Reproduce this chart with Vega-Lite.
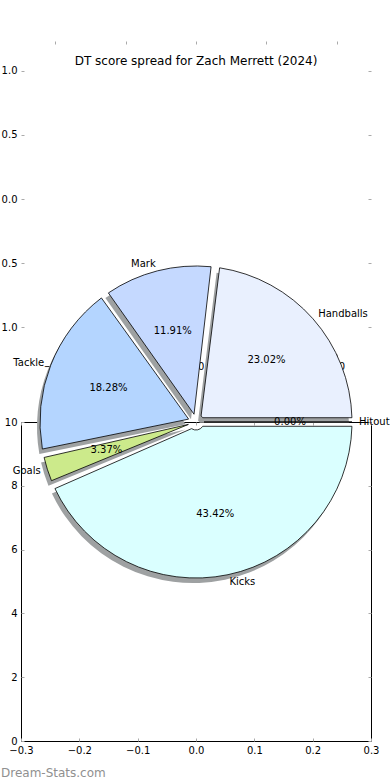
{
  "$schema": "https://vega.github.io/schema/vega-lite/v6.json",
  "padding": {"left": 0, "top": 40, "right": 0, "bottom": 0},
  "config": {
    "font": "DejaVu Sans",
    "view": {"stroke": null},
    "axis": {"labelFont": "DejaVu Sans", "labelFontSize": 10, "labelColor": "#000000", "tickColor": "#aaaaaa", "tickSize": -3, "labelPadding": 7, "domain": false, "grid": false, "labelFlush": false}
  },
  "data": {"values": [
    {"stat": "Handballs", "share": 0.2302, "idx": 1},
    {"stat": "Mark", "share": 0.1191, "idx": 2},
    {"stat": "Tackle", "share": 0.1828, "idx": 3},
    {"stat": "Goals", "share": 0.0337, "idx": 4},
    {"stat": "Kicks", "share": 0.4342, "idx": 5},
    {"stat": "Hitout", "share": 0.0, "idx": 6}
  ]},
  "bounds": "flush",
  "spacing": 65,
  "vconcat": [
    {
      "width": 350,
      "height": 316,
      "title": {"text": "DT score spread for Zach Merrett (2024)", "fontSize": 12, "fontWeight": "normal", "font": "DejaVu Sans", "color": "#000000", "frame": "group", "offset": -32, "baseline": "middle"},
      "layer": [
        {
          "mark": {"type": "point", "opacity": 0},
          "encoding": {
            "x": {"datum": 0, "type": "quantitative", "scale": {"domain": [-1.245, 1.245], "nice": false, "zero": false}, "axis": {"orient": "bottom", "values": [-1, -0.5, 0, 0.5, 1], "format": ".1f", "title": null}},
            "y": {"datum": 0, "type": "quantitative", "scale": {"domain": [-1.234, 1.234], "nice": false, "zero": false}, "axis": {"orient": "left", "values": [-1, -0.5, 0, 0.5, 1], "labelExpr": "format(abs(datum.value), '.1f')", "title": null}}
          }
        },
        {
          "mark": {"type": "point", "opacity": 0},
          "encoding": {
            "x": {"datum": 0, "type": "quantitative", "axis": {"orient": "top", "values": [-1, -0.5, 0, 0.5, 1], "labels": false, "title": null}},
            "y": {"datum": 0, "type": "quantitative", "axis": {"orient": "right", "values": [-1, -0.5, 0, 0.5, 1], "labels": false, "title": null}}
          }
        }
      ],
      "resolve": {"axis": {"x": "independent", "y": "independent"}}
    },
    {
      "width": 350,
      "height": 319,
      "view": {"stroke": "#000000", "strokeWidth": 1},
      "title": {"text": "Dream-Stats.com", "orient": "bottom", "anchor": "start", "frame": "group", "offset": 13, "dx": -20, "baseline": "top", "fontSize": 12, "fontWeight": "normal", "font": "DejaVu Sans", "color": "#909090"},
      "layer": [
        {
          "mark": {"type": "point", "opacity": 0},
          "encoding": {
            "x": {"datum": 0, "type": "quantitative", "scale": {"domain": [-0.3, 0.3], "nice": false, "zero": false}, "axis": {"orient": "bottom", "values": [-0.3, -0.2, -0.1, 0, 0.1, 0.2, 0.3], "format": ".1f", "title": null}},
            "y": {"datum": 5, "type": "quantitative", "scale": {"domain": [0, 10], "nice": false, "zero": false}, "axis": {"orient": "left", "values": [0, 2, 4, 6, 8, 10], "format": "d", "title": null}}
          }
        },
        {
          "mark": {"type": "point", "opacity": 0},
          "encoding": {
            "x": {"datum": 0, "type": "quantitative", "axis": {"orient": "top", "values": [-0.3, -0.2, -0.1, 0, 0.1, 0.2, 0.3], "labels": false, "title": null}},
            "y": {"datum": 5, "type": "quantitative", "axis": {"orient": "right", "values": [0, 2, 4, 6, 8, 10], "labels": false, "title": null}}
          }
        },
        {
          "mark": {"type": "arc", "innerRadius": 8, "outerRadius": 156, "padAngle": 0.055, "color": "#9ea1a2", "xOffset": -3, "yOffset": 5},
          "encoding": {
            "x": {"datum": 0, "type": "quantitative", "axis": null},
            "y": {"datum": 10, "type": "quantitative", "axis": null},
            "theta": {"field": "share", "type": "quantitative", "stack": true, "scale": {"range": [1.5708, -4.7124]}},
            "order": {"field": "idx", "type": "quantitative"},
            "detail": {"field": "stat", "type": "nominal"}
          }
        },
        {
          "mark": {"type": "arc", "innerRadius": 8, "outerRadius": 156, "padAngle": 0.055, "stroke": "#000000", "strokeWidth": 0.8},
          "encoding": {
            "x": {"datum": 0, "type": "quantitative", "axis": null},
            "y": {"datum": 10, "type": "quantitative", "axis": null},
            "theta": {"field": "share", "type": "quantitative", "stack": true},
            "order": {"field": "idx", "type": "quantitative"},
            "color": {"field": "stat", "type": "nominal", "legend": null, "scale": {"domain": ["Handballs", "Mark", "Tackle", "Goals", "Kicks", "Hitout"], "range": ["#e9f0fe", "#c5d9ff", "#b4d5ff", "#ccea8b", "#daffff", "#d0d0d0"]}}
          }
        },
        {
          "mark": {"type": "text", "radius": 94, "fontSize": 10, "font": "DejaVu Sans", "color": "#000000"},
          "encoding": {
            "x": {"datum": 0, "type": "quantitative", "axis": null},
            "y": {"datum": 10, "type": "quantitative", "axis": null},
            "theta": {"field": "share", "type": "quantitative", "stack": true},
            "order": {"field": "idx", "type": "quantitative"},
            "detail": {"field": "stat", "type": "nominal"},
            "text": {"field": "share", "type": "quantitative", "format": ".2%"}
          }
        },
        {
          "mark": {"type": "text", "radius": 163, "fontSize": 10, "font": "DejaVu Sans", "color": "#000000", "align": {"expr": "indexof(['Mark','Tackle','Goals'], datum.stat) >= 0 ? 'right' : 'left'"}},
          "encoding": {
            "x": {"datum": 0, "type": "quantitative", "axis": null},
            "y": {"datum": 10, "type": "quantitative", "axis": null},
            "theta": {"field": "share", "type": "quantitative", "stack": true},
            "order": {"field": "idx", "type": "quantitative"},
            "detail": {"field": "stat", "type": "nominal"},
            "text": {"field": "stat", "type": "nominal"}
          }
        }
      ],
      "resolve": {"axis": {"x": "independent", "y": "independent"}}
    }
  ]
}
